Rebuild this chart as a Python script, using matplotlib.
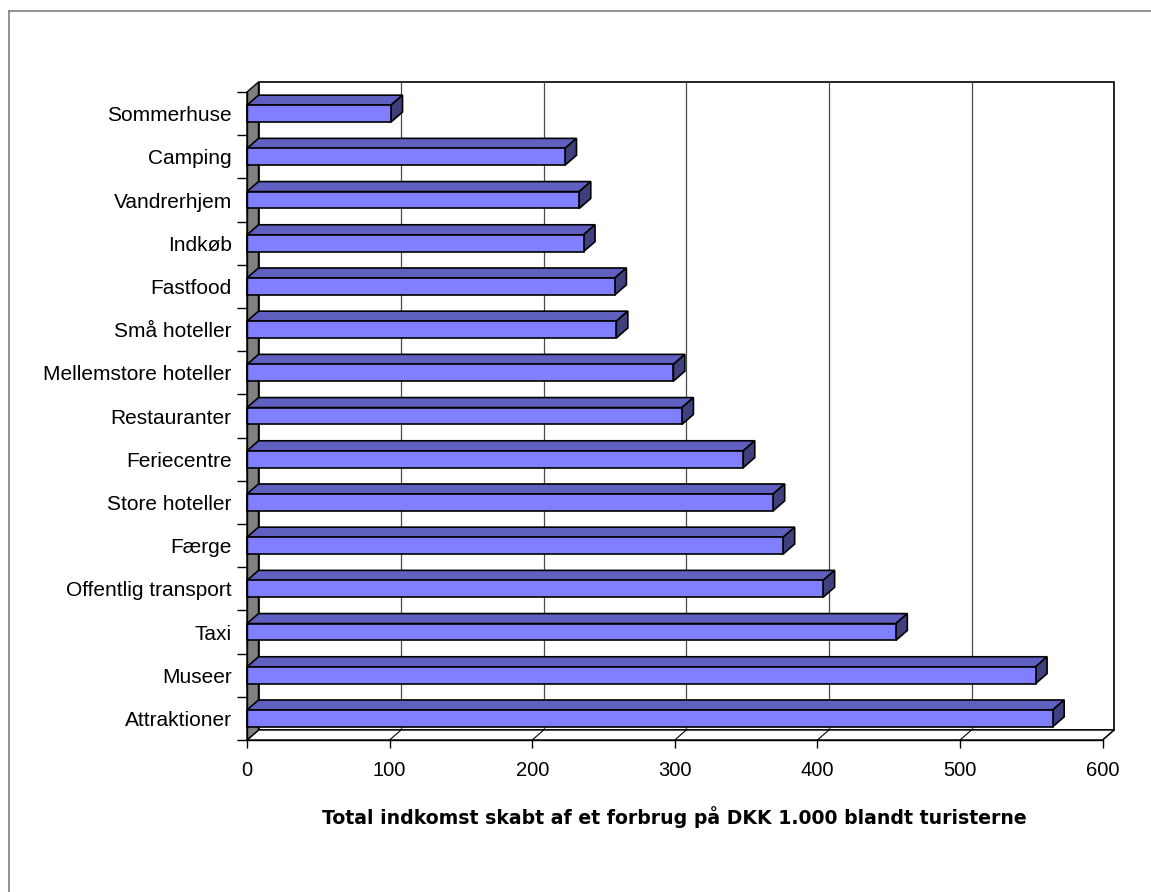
import matplotlib.pyplot as plt
from matplotlib.patches import Polygon, Rectangle
from matplotlib.lines import Line2D

plt.rcParams["font.family"] = ["Liberation Sans", "DejaVu Sans"]

# categories listed top to bottom as in the chart
categories = [
    "Sommerhuse", "Camping", "Vandrerhjem", "Indkøb", "Fastfood",
    "Små hoteller", "Mellemstore hoteller", "Restauranter", "Feriecentre",
    "Store hoteller", "Færge", "Offentlig transport", "Taxi", "Museer",
    "Attraktioner",
]
values = [101, 223, 233, 236, 258, 259, 299, 305, 348, 369, 376, 404, 455, 553, 565]
x_ticks = [0, 100, 200, 300, 400, 500, 600]
x_label = "Total indkomst skabt af et forbrug på DKK 1.000 blandt turisterne"

W, H = 1151, 892
fig = plt.figure(figsize=(W / 100, H / 100), dpi=100)

# front plane of the 3D box, in pixels
x0, x1, y_top, y_bot = 247, 1102.6, 92, 740
ax = fig.add_axes([x0 / W, (H - y_bot) / H, (x1 - x0) / W, (y_bot - y_top) / H])

n = len(categories)
ypos = list(range(n - 1, -1, -1))  # first category at top
xmax = x_ticks[-1]
ax.set_xlim(0, xmax)
ax.set_ylim(-0.5, n - 0.5)

# depth offset of the 3D effect (data units)
dx = 11.5 / (x1 - x0) * xmax
dy = 10 / ((y_bot - y_top) / n)
ylo, yhi = -0.5, n - 0.5

# back wall + gridlines
ax.add_patch(Rectangle((dx, ylo + dy), xmax, n, facecolor="white",
                       edgecolor="black", lw=1.2, clip_on=False, zorder=1))
for xv in x_ticks[1:-1]:
    ax.add_line(Line2D([xv + dx, xv + dx], [ylo + dy, yhi + dy], color="#4a4a4a",
                       lw=0.9, clip_on=False, zorder=1.5))

# floor
ax.add_patch(Polygon([(0, ylo), (xmax, ylo), (xmax + dx, ylo + dy), (dx, ylo + dy)],
                     closed=True, facecolor="white", edgecolor="black", lw=1.0,
                     clip_on=False, zorder=2))
for xv in x_ticks:
    ax.add_line(Line2D([xv, xv + dx], [ylo, ylo + dy], color="black", lw=0.8,
                       clip_on=False, zorder=2.1))

# left wall
ax.add_patch(Polygon([(0, ylo), (dx, ylo + dy), (dx, yhi + dy), (0, yhi)],
                     closed=True, facecolor="#808080", edgecolor="black", lw=1.0,
                     clip_on=False, zorder=2.5))

# bars
h = 0.39
for y, v in zip(ypos, values):
    lo, hi = y - h / 2, y + h / 2
    ax.add_patch(Polygon([(0, hi), (v, hi), (v + dx, hi + dy), (dx, hi + dy)],
                         closed=True, facecolor="#6060C0", edgecolor="black",
                         lw=1.2, clip_on=False, zorder=3))
    ax.add_patch(Polygon([(v, lo), (v + dx, lo + dy), (v + dx, hi + dy), (v, hi)],
                         closed=True, facecolor="#40407F", edgecolor="black",
                         lw=1.2, clip_on=False, zorder=3))
    ax.add_patch(Rectangle((0, lo), v, h, facecolor="#8080FF", edgecolor="black",
                           lw=1.2, clip_on=False, zorder=3.2))

ax.set_facecolor("none")
for s in ["top", "right"]:
    ax.spines[s].set_visible(False)
for s in ["left", "bottom"]:
    ax.spines[s].set_linewidth(1.0)
    ax.spines[s].set_zorder(4)

ax.set_yticks(ypos)
ax.set_yticklabels(categories, fontsize=15)
ax.tick_params(axis="y", which="major", length=0, pad=11)
ax.set_yticks([k - 0.5 for k in range(n + 1)], minor=True)
ax.tick_params(axis="y", which="minor", length=7.5, width=1.0, direction="out")

ax.set_xticks(x_ticks)
ax.tick_params(axis="x", which="major", length=6, width=1.0, direction="out",
               labelsize=14.5, pad=9)
ax.set_xlabel(x_label, fontsize=13.6, fontweight="bold", labelpad=19,
              family="DejaVu Sans")

# outer chart border (runs off the canvas on the right and bottom)
fig.add_artist(Line2D([8.5 / W, 8.5 / W], [0, 1 - 11 / H], color="#808080",
                      lw=1.2, transform=fig.transFigure))
fig.add_artist(Line2D([8.5 / W, 1], [1 - 11 / H, 1 - 11 / H], color="#808080",
                      lw=1.2, transform=fig.transFigure))

fig.savefig("out.png", dpi=100)
